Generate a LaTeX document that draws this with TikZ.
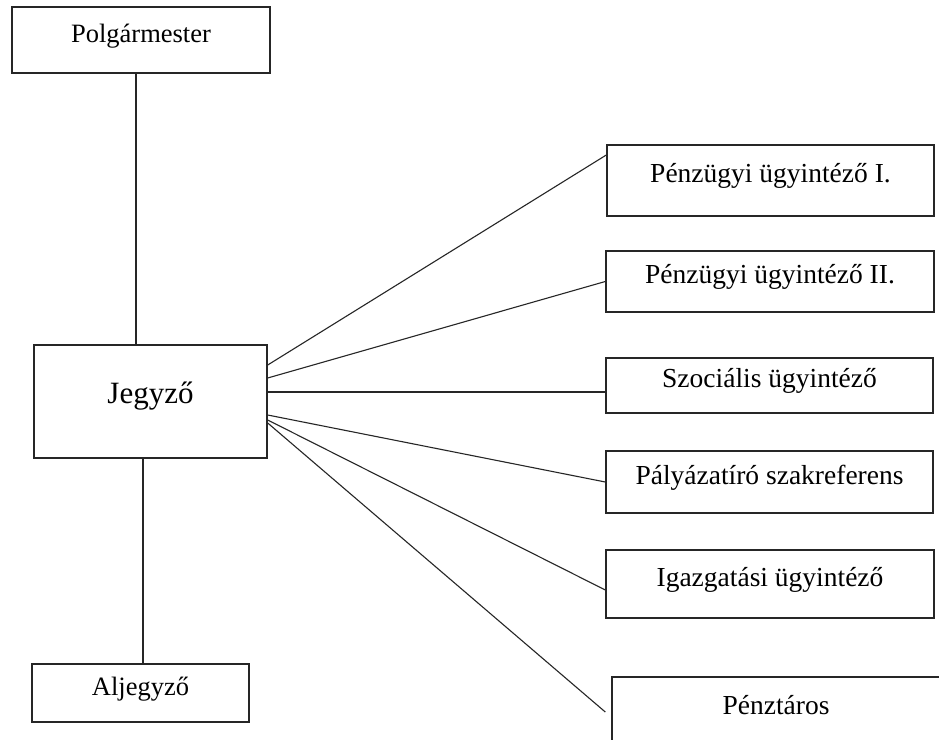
\documentclass[tikz,border=0pt]{standalone}
\usepackage{fontspec}
\setmainfont{Liberation Serif}
\begin{document}
\begin{tikzpicture}[x=1pt,y=-1pt,
    box/.style={draw=black!85,line width=1.4pt,rectangle,inner sep=0pt,text height=18pt,text depth=14pt,font=\fontsize{26.5}{30}\selectfont},
    link/.style={draw=black!85,line width=1.1pt}]
            \clip (0,0) rectangle (939,739);
            \fill[white] (0,0) rectangle (939,739);
            % left column
            \node[box,minimum width=258pt,minimum height=66pt] (pol) at (141,40){Polgármester};
            \node[box,minimum width=233pt,minimum height=113pt,font=\fontsize{31}{36}\selectfont] (jegy) at (150.5,401.5){Jegyző};
            \node[box,minimum width=217pt,minimum height=58pt] (alj) at (140.5,693){Aljegyző};
            % right column
            \node[box,minimum width=327pt,minimum height=71pt,font=\fontsize{27.5}{32}\selectfont] (p1) at (770.5,180.5){Pénzügyi ügyintéző I.};
            \node[box,minimum width=328pt,minimum height=61pt,font=\fontsize{27.5}{32}\selectfont] (p2) at (770,281.5){Pénzügyi ügyintéző II.};
            \node[box,minimum width=327pt,minimum height=55pt,font=\fontsize{27.5}{32}\selectfont] (szoc) at (769.5,385.5){Szociális ügyintéző};
            \node[box,minimum width=327pt,minimum height=62pt,font=\fontsize{27.5}{32}\selectfont] (paly) at (769.5,482){Pályázatíró szakreferens};
            \node[box,minimum width=328pt,minimum height=68pt,font=\fontsize{27.5}{32}\selectfont] (igaz) at (770,584){Igazgatási ügyintéző};
            \node[box,minimum width=328pt,minimum height=70pt,font=\fontsize{27.5}{32}\selectfont] (penz) at (776,712){Pénztáros};
            % connectors
            \draw[link] ([xshift=-5pt]pol.south)--([xshift=-14.5pt]jegy.north);
            \draw[link] ([xshift=-7.5pt]jegy.south)--([xshift=2.5pt]alj.north);
            \draw[link] ([yshift=36.5pt]jegy.east)--([yshift=25.5pt]p1.west);
            \draw[link] ([yshift=23.5pt]jegy.east)--(p2.west);
            \draw[link] ([yshift=9.5pt]jegy.east)--([yshift=-6.5pt]szoc.west);
            \draw[link] ([yshift=-13.5pt]jegy.east)--(paly.west);
            \draw[link] ([yshift=-18.5pt]jegy.east)--([yshift=-6pt]igaz.west);
            \draw[link] ([yshift=-21.5pt]jegy.east)--([xshift=-6pt]penz.west);
\end{tikzpicture}
\end{document}
